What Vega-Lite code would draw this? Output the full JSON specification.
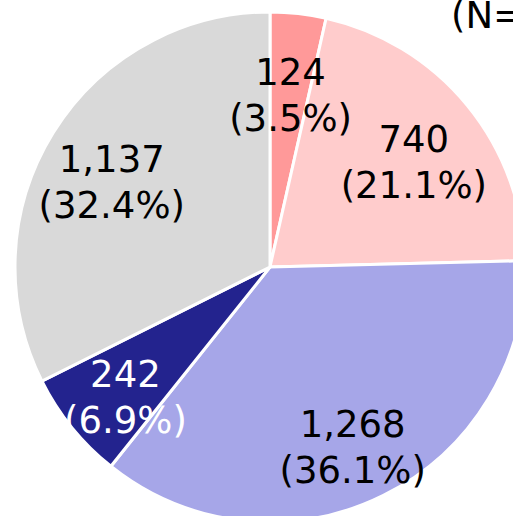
{
  "$schema": "https://vega.github.io/schema/vega-lite/v6.json",
  "width": 540,
  "height": 534,
  "autosize": "none",
  "padding": 0,
  "background": "white",
  "view": {"stroke": null},
  "title": {"text": "(N=3,511)", "anchor": "start", "frame": "group", "dx": 451, "dy": 36, "offset": 0, "baseline": "top", "font": "DejaVu Sans", "fontSize": 37, "fontWeight": "normal", "color": "black"},
  "data": {"values": [
    {"id": 1, "value": 124, "label": "124\n(3.5%)"},
    {"id": 2, "value": 740, "label": "740\n(21.1%)"},
    {"id": 3, "value": 1268, "label": "1,268\n(36.1%)"},
    {"id": 4, "value": 242, "label": "242\n(6.9%)"},
    {"id": 5, "value": 1137, "label": "1,137\n(32.4%)"}
  ]},
  "encoding": {
    "theta": {"field": "value", "type": "quantitative", "stack": true},
    "order": {"field": "id", "type": "quantitative"}
  },
  "layer": [
    {
      "mark": {"type": "arc", "outerRadius": 255, "stroke": "white", "strokeWidth": 3},
      "encoding": {
        "color": {"field": "id", "type": "nominal", "legend": null,
          "scale": {"domain": [1, 2, 3, 4, 5], "range": ["#FF9999", "#FFCCCC", "#A6A6E8", "#23238E", "#D9D9D9"]}}
      }
    },
    {
      "mark": {"type": "text", "radius": 186, "dy": -8, "font": "DejaVu Sans", "fontSize": 37, "lineBreak": "\n", "lineHeight": 46, "align": "center", "baseline": "middle"},
      "encoding": {
        "text": {"field": "label", "type": "nominal"},
        "color": {"condition": {"test": "datum.id === 4", "value": "white"}, "value": "black"}
      }
    }
  ]
}
